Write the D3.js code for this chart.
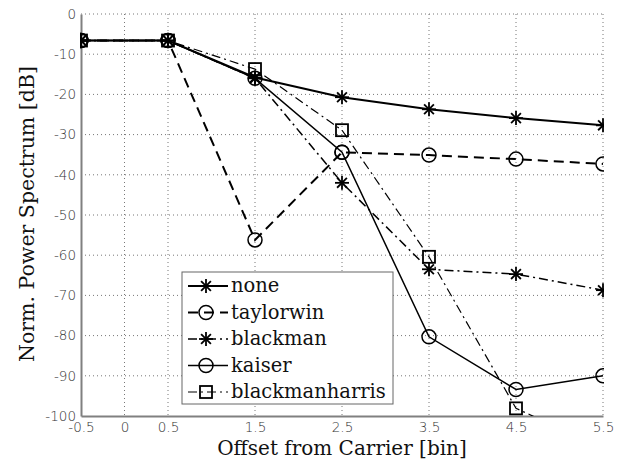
<!DOCTYPE html>
<html>
<head>
<meta charset="utf-8">
<script src="https://cdn.jsdelivr.net/npm/d3@7"></script>
<style>
  body { margin: 0; background: #fff; }
  svg text.serif { font-family: "DejaVu Serif", "Liberation Serif", serif; fill: #111; }
</style>
</head>
<body>
<svg id="chart" width="629" height="464"></svg>
<script>
// data
const offsets = [-0.5, 0.5, 1.5, 2.5, 3.5, 4.5, 5.5];
const none = [-6.6, -6.6, -15.8, -20.7, -23.7, -25.9, -27.7];
const taylorwin = [-6.6, -6.6, -56.2, -34.4, -35.1, -36.1, -37.3];
const blackman = [-6.6, -6.6, -16.0, -42.0, -63.5, -64.7, -68.7];
const kaiser = [-6.6, -6.6, -16.0, -34.4, -80.3, -93.4, -90.0];
const blackmanharris = [-6.6, -6.6, -13.7, -28.9, -60.4, -98.1, -108.0];

const xTicks = [-0.5, 0, 0.5, 1.5, 2.5, 3.5, 4.5, 5.5];
const yTicks = [0, -10, -20, -30, -40, -50, -60, -70, -80, -90, -100];

const series = [
  { name: "none", values: none, marker: "star", dash: null, width: 2 },
  { name: "taylorwin", values: taylorwin, marker: "circle", dash: "10,6", width: 2 },
  { name: "blackman", values: blackman, marker: "star", dash: "9,4,2,4", width: 1.5 },
  { name: "kaiser", values: kaiser, marker: "circle", dash: null, width: 1.5 },
  { name: "blackmanharris", values: blackmanharris, marker: "square", dash: "9,4,2,4", width: 1.2 }
];

const svg = d3.select("#chart");
const margin = { left: 81, top: 14, right: 26, bottom: 48 };
const w = 629 - margin.left - margin.right;
const h = 464 - margin.top - margin.bottom;

const x = d3.scaleLinear().domain([-0.5, 5.5]).range([0, w]);
const y = d3.scaleLinear().domain([-100, 0]).range([h, 0]);

const g = svg.append("g").attr("transform", `translate(${margin.left},${margin.top})`);

svg.append("defs").append("clipPath").attr("id", "plotclip")
  .append("rect").attr("x", -1).attr("y", -1).attr("width", w + 2).attr("height", h + 1);

// dotted grid
g.append("g").selectAll("line").data(xTicks.filter(d => d > -0.5)).enter().append("line")
  .attr("x1", d => x(d)).attr("x2", d => x(d)).attr("y1", 0).attr("y2", h)
  .attr("stroke", "#777").attr("stroke-width", 1).attr("stroke-dasharray", "1,3");
g.append("g").selectAll("line").data(yTicks.filter(d => d > -100)).enter().append("line")
  .attr("x1", 0).attr("x2", w).attr("y1", d => y(d)).attr("y2", d => y(d))
  .attr("stroke", "#777").attr("stroke-width", 1).attr("stroke-dasharray", "1,3");

// axes
const xAxis = g.append("g").attr("transform", `translate(0,${h})`)
  .call(d3.axisBottom(x).tickValues(xTicks).tickSize(0).tickPadding(6).tickFormat(d => d));
const yAxis = g.append("g")
  .call(d3.axisLeft(y).tickValues(yTicks).tickSize(0).tickPadding(5).tickFormat(d => d));
[xAxis, yAxis].forEach(a => {
  a.select(".domain").attr("stroke", "#808080").attr("stroke-width", 2);
  a.selectAll("text").style("font-family", "'DejaVu Sans', sans-serif")
    .style("font-size", "13.5px").style("font-weight", "300").attr("fill", "#333");
});

// lines
const line = d3.line().x((d, i) => x(offsets[i])).y(d => y(d));
const plot = g.append("g").attr("clip-path", "url(#plotclip)");

function drawMarker(sel, type, cx, cy) {
  if (type === "star") {
    const r = 7;
    [[0, 1], [1, 0], [0.7, 0.7], [0.7, -0.7]].forEach(([dx, dy]) => {
      sel.append("line")
        .attr("x1", cx - dx * r).attr("y1", cy - dy * r)
        .attr("x2", cx + dx * r).attr("y2", cy + dy * r)
        .attr("stroke", "#000").attr("stroke-width", 1.8);
    });
  } else if (type === "circle") {
    sel.append("circle").attr("cx", cx).attr("cy", cy).attr("r", 7)
      .attr("fill", "none").attr("stroke", "#000").attr("stroke-width", 1.5);
  } else {
    sel.append("rect").attr("x", cx - 6).attr("y", cy - 6).attr("width", 12).attr("height", 12)
      .attr("fill", "none").attr("stroke", "#000").attr("stroke-width", 1.8);
  }
}

series.forEach(s => {
  plot.append("path").datum(s.values)
    .attr("d", line).attr("fill", "none").attr("stroke", "#000")
    .attr("stroke-width", s.width).attr("stroke-dasharray", s.dash);
  const mg = plot.append("g");
  s.values.forEach((v, i) => drawMarker(mg, s.marker, x(offsets[i]), y(v)));
});

// legend
const leg = svg.append("g").attr("transform", "translate(182,272)");
leg.append("rect").attr("width", 211).attr("height", 132)
  .attr("fill", "#fff").attr("stroke", "#666").attr("stroke-width", 1);
series.forEach((s, i) => {
  const ly = 14 + i * 26.5;
  leg.append("line").attr("x1", 6).attr("x2", 46).attr("y1", ly).attr("y2", ly)
    .attr("stroke", "#000").attr("stroke-width", s.width).attr("stroke-dasharray", s.dash);
  drawMarker(leg, s.marker, 24, ly);
  leg.append("text").attr("class", "serif").attr("x", 49).attr("y", ly + 6)
    .style("font-size", "19.5px").text(s.name);
});

// axis titles
svg.append("text").attr("class", "serif").attr("x", margin.left + w / 2).attr("y", 455)
  .attr("text-anchor", "middle").style("font-size", "20px")
  .text("Offset from Carrier [bin]");
svg.append("text").attr("class", "serif").attr("transform", "translate(34,214) rotate(-90)")
  .attr("text-anchor", "middle").style("font-size", "20.5px")
  .text("Norm. Power Spectrum [dB]");
</script>
</body>
</html>
